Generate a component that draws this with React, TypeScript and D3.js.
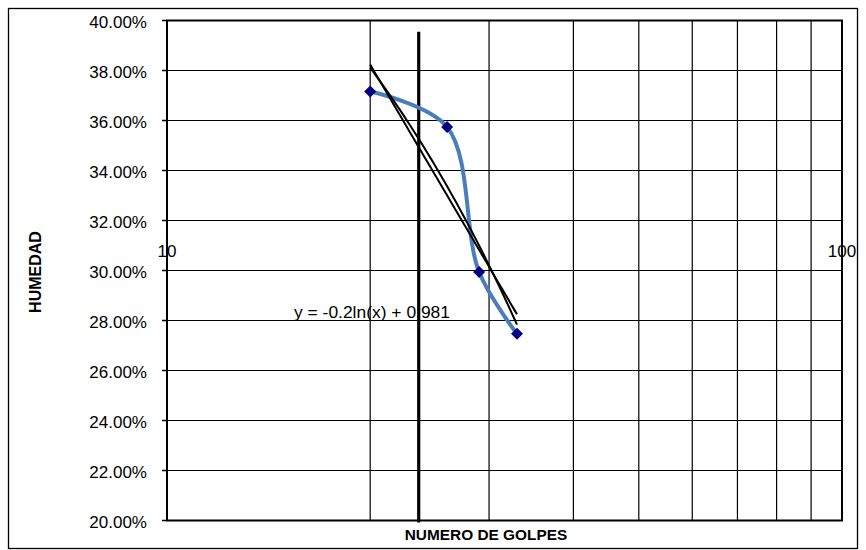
import React from "react";
import * as d3 from "d3";

const golpes = [20, 26, 29, 33];
const humedad = [0.3716, 0.3574, 0.2994, 0.2747];
const yTicks = [0.2, 0.22, 0.24, 0.26, 0.28, 0.3, 0.32, 0.34, 0.36, 0.38, 0.4];
const xGrid = [10, 20, 30, 40, 50, 60, 70, 80, 90, 100];
const xLabels = [10, 100];
const refLineX = [23.6];
const refLineY = [0.3955, 0.1992];
const equationText = "y = -0.2ln(x) + 0.981";
const xTitle = "NUMERO DE GOLPES";
const yTitle = "HUMEDAD";

const FONT = "'Liberation Sans', Arial, sans-serif";

export default function App() {
  const left = 167, right = 842, top = 20.5, bottom = 520.5;
  const x = d3.scaleLog().domain([10, 100]).range([left, right]);
  const y = d3.scaleLinear().domain([0.2, 0.4]).range([bottom, top]);

  const pts: [number, number][] = golpes.map((g, i) => [g, humedad[i]]);

  // log regression
  const lx = golpes.map((g) => Math.log(g));
  const mlx = d3.mean(lx)!;
  const my = d3.mean(humedad)!;
  const sl = d3.sum(lx.map((v, i) => (v - mlx) * (humedad[i] - my))) / d3.sum(lx.map((v) => (v - mlx) ** 2));
  const il = my - sl * mlx;
  // linear regression
  const mx = d3.mean(golpes)!;
  const slin = d3.sum(golpes.map((v, i) => (v - mx) * (humedad[i] - my))) / d3.sum(golpes.map((v) => (v - mx) ** 2));
  const ilin = my - slin * mx;

  const x0 = d3.min(golpes)!, x1 = d3.max(golpes)!;
  const samples = d3.range(0, 41).map((k) => x0 + ((x1 - x0) * k) / 40);
  const lineGen = d3.line<[number, number]>().x((d) => x(d[0])).y((d) => y(d[1]));
  const logTrend = lineGen(samples.map((v) => [v, il + sl * Math.log(v)]));
  const linTrend = lineGen(samples.map((v) => [v, ilin + slin * v]));
  const smooth = d3
    .line<[number, number]>()
    .x((d) => x(d[0]))
    .y((d) => y(d[1]))
    .curve(d3.curveCatmullRom.alpha(0.5))(pts);

  return (
    <svg width={866} height={550} style={{ position: "absolute", left: 0, top: 0 }} fontFamily={FONT}>
      <rect x={0} y={0} width={866} height={550} fill="#fff" />
      <rect x={8.5} y={8.5} width={849} height={540} fill="none" stroke="#000" strokeWidth={1.3} />
      {/* grid */}
      {yTicks.map((t) => (
        <line key={"h" + t} x1={left} x2={right} y1={y(t)} y2={y(t)} stroke="#000" strokeWidth={1.2} />
      ))}
      {xGrid.map((t) => (
        <line key={"v" + t} x1={x(t)} x2={x(t)} y1={top} y2={bottom} stroke="#000" strokeWidth={1.2} />
      ))}
      {/* plot border */}
      <rect x={left} y={top} width={right - left} height={bottom - top} fill="none" stroke="#000" strokeWidth={2} />
      {/* y ticks */}
      {yTicks.map((t) => (
        <g key={"yt" + t}>
          <line x1={left - 5} x2={left} y1={y(t)} y2={y(t)} stroke="#000" strokeWidth={1.5} />
          <text x={147} y={y(t) + 7} textAnchor="end" fontSize={17} fill="#000">
            {(t * 100).toFixed(2) + "%"}
          </text>
        </g>
      ))}
      {xLabels.map((t) => (
        <text key={"xl" + t} x={x(t)} y={257} textAnchor="middle" fontSize={17} fill="#000">
          {t}
        </text>
      ))}
      {/* thick vertical reference */}
      <line x1={x(refLineX[0])} x2={x(refLineX[0])} y1={y(refLineY[0])} y2={y(refLineY[1])} stroke="#000" strokeWidth={3.2} />
      {/* smoothed series */}
      <path d={smooth || ""} fill="none" stroke="#4A7EBB" strokeWidth={4} strokeLinecap="round" />
      {/* trendlines */}
      <path d={logTrend || ""} fill="none" stroke="#000" strokeWidth={2} />
      <path d={linTrend || ""} fill="none" stroke="#000" strokeWidth={2} />
      {/* markers */}
      {pts.map((p, i) => {
        const cx = x(p[0]), cy = y(p[1]), r = 6;
        return (
          <path key={"m" + i} d={`M${cx},${cy - r}L${cx + r},${cy}L${cx},${cy + r}L${cx - r},${cy}Z`} fill="#000080" />
        );
      })}
      <text x={294} y={318} fontSize={17} textLength={156} lengthAdjust="spacingAndGlyphs" fill="#000">
        {equationText}
      </text>
      <text x={486} y={540} textAnchor="middle" fontSize={15.4} fontWeight="bold" fill="#000">
        {xTitle}
      </text>
      <text transform={`translate(40.5,272) rotate(-90)`} textAnchor="middle" fontSize={16} fontWeight="bold" fill="#000">
        {yTitle}
      </text>
    </svg>
  );
}
